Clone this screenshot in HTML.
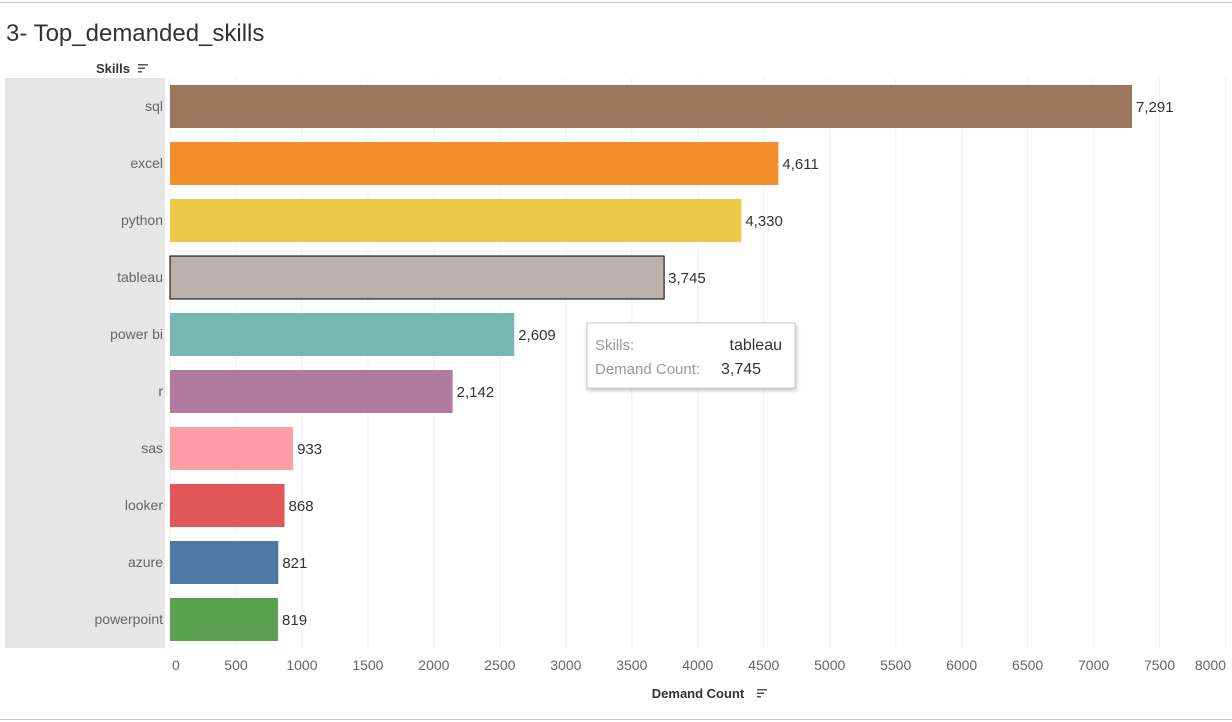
<!DOCTYPE html>
<html><head><meta charset="utf-8"><style>
html,body{margin:0;padding:0;background:#fff;}
svg{display:block;font-family:"Liberation Sans",sans-serif;}
</style></head><body>
<svg id="chart" width="1232" height="722">
<line x1="0" y1="2.5" x2="1232" y2="2.5" stroke="#c8c8c8"/>
<line x1="0" y1="719.5" x2="1232" y2="719.5" stroke="#c8c8c8"/>
<text x="6" y="41" font-size="24" fill="#333">3- Top_demanded_skills</text>
<text x="96" y="73" font-size="13" font-weight="bold" fill="#333">Skills</text>
<g><rect x="138" y="64" width="10" height="1.5" fill="#555"/><rect x="138" y="67.5" width="7" height="1.5" fill="#555"/><rect x="138" y="71" width="4" height="1.5" fill="#555"/></g>
<rect x="5" y="78" width="160" height="570" fill="#e6e6e6"/>
<g id="grid"></g><g id="bars"></g><g id="xticks"></g>
<text x="698" y="698" font-size="13" font-weight="bold" fill="#333" text-anchor="middle">Demand Count</text>
<g><rect x="757" y="689" width="10" height="1.5" fill="#555"/><rect x="757" y="692.5" width="7" height="1.5" fill="#555"/><rect x="757" y="696" width="4" height="1.5" fill="#555"/></g>
<g>
<rect x="587" y="323" width="208" height="65" fill="#fff" stroke="#ccc" style="filter:drop-shadow(1px 2px 2px rgba(0,0,0,0.25))"/>
<text x="595" y="350" font-size="15" fill="#999">Skills:</text>
<text x="782" y="350" font-size="16" fill="#333" text-anchor="end">tableau</text>
<text x="595" y="374" font-size="15" fill="#999">Demand Count:</text>
<text x="721" y="374" font-size="16" fill="#333">3,745</text>
</g>
</svg>
<script>
const categories=["sql","excel","python","tableau","power bi","r","sas","looker","azure","powerpoint"];
const values=[7291,4611,4330,3745,2609,2142,933,868,821,819];
const colors=["#9b775e","#f28e2b","#edc948","#bab0ac","#76b7b2","#b07aa1","#ff9da7","#e15759","#4e79a7","#59a14f"];
const xTicks=[0,500,1000,1500,2000,2500,3000,3500,4000,4500,5000,5500,6000,6500,7000,7500,8000];
const NS="http://www.w3.org/2000/svg";
const x0=170,k=(1132-170)/7291;
const xs=v=>x0+v*k;
const yc=i=>106+i*57;
function mk(t,a,p){const e=document.createElementNS(NS,t);for(const n in a)e.setAttribute(n,a[n]);p.appendChild(e);return e;}
const grid=document.getElementById('grid'),bars=document.getElementById('bars'),xt=document.getElementById('xticks');
xTicks.forEach((v,i)=>{
 const l=mk('line',{x1:xs(v),x2:xs(v),y1:78,y2:648,stroke:'#f0f0f0'},grid);
 
 
 let anchor='middle',x=xs(v);
 if(i===0){anchor='start';x=xs(v)+2;} if(i===xTicks.length-1){anchor='end';x=1226;}
 const t=mk('text',{x:x,y:670,'font-size':14,fill:'#666','text-anchor':anchor},xt);
 t.textContent=v;
 
 
});
categories.forEach((c,i)=>{
 const y=yc(i);
 const lab=mk('text',{x:163,y:y+5,'font-size':14,fill:'#666','text-anchor':'end'},bars);
 lab.textContent=c;
 
 
 const a={x:x0,y:y-21,width:xs(values[i])-x0,height:43,fill:colors[i]};
 if(c==='tableau'){a.stroke='#000';a['stroke-width']=1;}
 const r=mk('rect',a,bars);
 
 
 const v=mk('text',{x:xs(values[i])+4,y:y+6,'font-size':15,fill:'#333'},bars);
 v.textContent=values[i].toLocaleString('en-US');
 
 
});
</script>
</body></html>
